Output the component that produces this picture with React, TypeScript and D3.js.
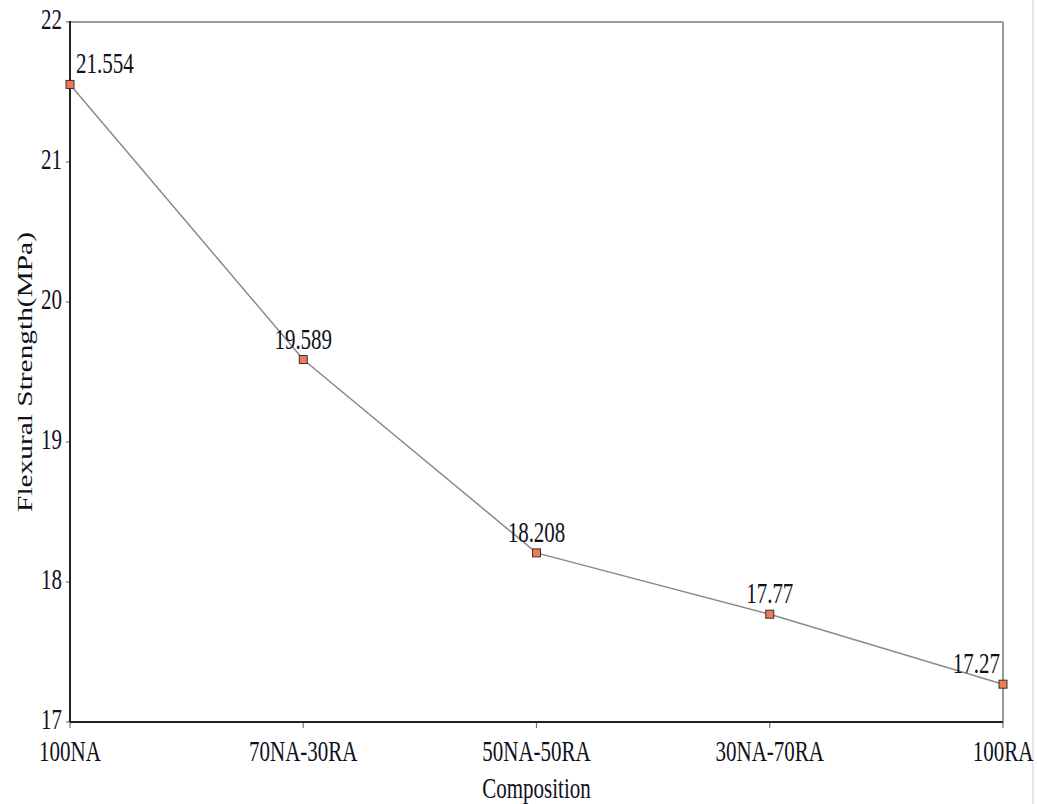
import React from "react";
import * as d3 from "d3";

const categories = ["100NA", "70NA-30RA", "50NA-50RA", "30NA-70RA", "100RA"];
const strength = [21.554, 19.589, 18.208, 17.77, 17.27];
const valueLabels = ["21.554", "19.589", "18.208", "17.77", "17.27"];
const yTicks = [17, 18, 19, 20, 21, 22];

const W = 1037;
const H = 804;
const M = { left: 70, right: 1003, top: 22, bottom: 722 };
const FONT = "'Liberation Serif', 'Times New Roman', serif";
const SY = 1.4;
const TXT = "#10101c";

export default function App() {
  const x = d3
    .scalePoint<string>()
    .domain(categories)
    .range([M.left, M.right]);
  const y = d3.scaleLinear().domain([17, 22]).range([M.bottom, M.top]);

  const pts = categories.map((c, i) => [x(c) as number, y(strength[i])] as [number, number]);
  const linePath = d3.line()(pts) || "";

  const n = categories.length;

  return (
    <svg
      width={W}
      height={H}
      style={{ position: "absolute", left: 0, top: 0, background: "#fff" }}
      fontFamily={FONT}
    >
      <rect x={0} y={0} width={W} height={H} fill="#fff" />
      <line x1={1033} x2={1033} y1={0} y2={H} stroke="#e6e6e6" strokeWidth={2} />

      {/* frame */}
      <line x1={M.left} x2={M.right} y1={M.top} y2={M.top} stroke="#999" strokeWidth={2} />
      <line x1={M.right} x2={M.right} y1={M.top} y2={M.bottom} stroke="#999" strokeWidth={2} />

      {/* y ticks */}
      {yTicks.map((t) => (
        <g key={t}>
          <line x1={M.left - 4} x2={M.left} y1={y(t)} y2={y(t)} stroke="#777" strokeWidth={1.2} />
          <text
            transform={`translate(${M.left - 8},${y(t) + 7}) scale(1,${SY})`}
            textAnchor="end"
            fontSize={21}
            fill={TXT}
          >
            {t}
          </text>
        </g>
      ))}

      {/* x ticks */}
      {categories.map((c) => (
        <g key={c}>
          <line x1={x(c)} x2={x(c)} y1={M.bottom} y2={M.bottom + 6} stroke="#777" strokeWidth={1.2} />
          <text
            transform={`translate(${x(c)},${761}) scale(1,${SY})`}
            textAnchor="middle"
            fontSize={21}
            fill={TXT}
          >
            {c}
          </text>
        </g>
      ))}

      <line x1={M.left} x2={M.left} y1={M.top - 1} y2={M.bottom} stroke="#222" strokeWidth={2} />
      <line x1={M.left} x2={M.right} y1={M.bottom} y2={M.bottom} stroke="#222" strokeWidth={2} />

      {/* axis titles */}
      <text
        transform={`translate(${(M.left + M.right) / 2},${798}) scale(1,${SY})`}
        textAnchor="middle"
        fontSize={21}
        fill={TXT}
      >
        Composition
      </text>
      <text
        transform={`translate(${32},${(M.top + M.bottom) / 2}) rotate(-90) scale(${SY},1)`}
        textAnchor="middle"
        fontSize={21}
        fill={TXT}
      >
        Flexural Strength(MPa)
      </text>

      {/* series */}
      <path d={linePath} fill="none" stroke="#8a8a8a" strokeWidth={1.5} />
      {pts.map(([px, py], i) => (
        <rect
          key={i}
          x={px - 4}
          y={py - 4}
          width={8}
          height={8}
          fill="#f07a55"
          stroke="#333"
          strokeWidth={1}
        />
      ))}
      {pts.map(([px, py], i) => {
        const anchor = i === 0 ? "start" : i === n - 1 ? "end" : "middle";
        const lx = i === 0 ? px + 6 : i === n - 1 ? px - 3 : px;
        return (
          <text
            key={i}
            transform={`translate(${lx},${py - 11}) scale(1,${SY})`}
            textAnchor={anchor}
            fontSize={21}
            fill={TXT}
          >
            {valueLabels[i]}
          </text>
        );
      })}
    </svg>
  );
}
